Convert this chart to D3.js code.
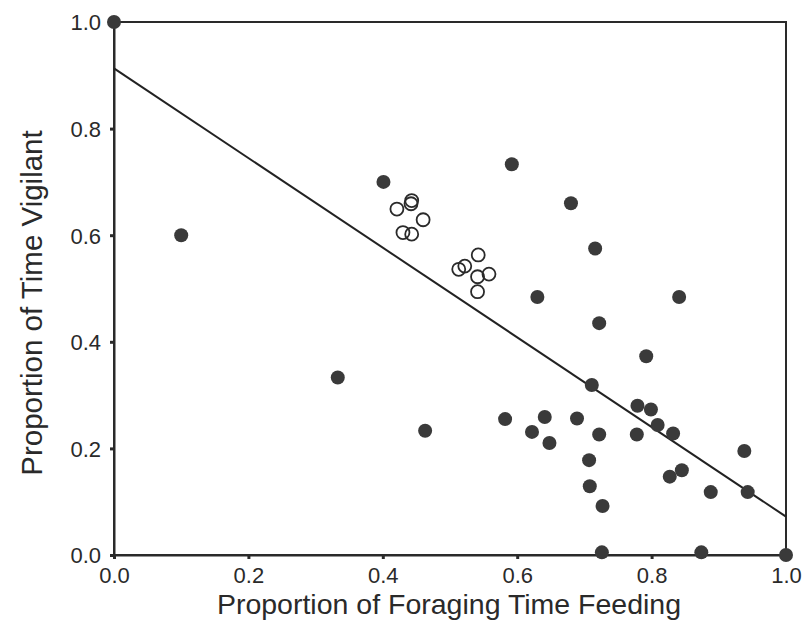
<!DOCTYPE html>
<html>
<head>
<meta charset="utf-8">
<script src="https://cdn.jsdelivr.net/npm/d3@7"></script>
<style>
  body { margin: 0; background: #fff; }
  text { font-family: "Liberation Sans", Arial, sans-serif; fill: #2a2a2a; }
</style>
</head>
<body>
<div id="scatter"></div>
<script>
var svgWidth = 803;
var svgHeight = 621;

var margin = { top: 22, right: 17, bottom: 66, left: 114 };
var width = svgWidth - margin.left - margin.right;
var height = svgHeight - margin.top - margin.bottom;

// filled points: feeding (x) vs vigilant (y)
var filledX = [0.0, 0.10, 0.333, 0.401, 0.463, 0.592, 0.680, 0.716, 0.630, 0.841,
  0.722, 0.792, 0.711, 0.582, 0.622, 0.641, 0.648, 0.689, 0.722, 0.707,
  0.708, 0.727, 0.726, 0.874, 1.0, 0.779, 0.799, 0.809, 0.832, 0.778,
  0.845, 0.827, 0.888, 0.938, 0.943];
var filledY = [1.0, 0.60, 0.333, 0.700, 0.233, 0.733, 0.660, 0.575, 0.484, 0.484,
  0.435, 0.373, 0.319, 0.255, 0.231, 0.259, 0.210, 0.256, 0.226, 0.178,
  0.129, 0.092, 0.005, 0.005, 0.0, 0.280, 0.273, 0.244, 0.228, 0.226,
  0.159, 0.147, 0.118, 0.195, 0.118];

// open points
var openX = [0.421, 0.443, 0.442, 0.460, 0.430, 0.443, 0.513, 0.522, 0.542, 0.541, 0.558, 0.541];
var openY = [0.649, 0.665, 0.659, 0.629, 0.605, 0.602, 0.536, 0.542, 0.563, 0.522, 0.527, 0.494];

// regression line end points
var fitX = [0, 1];
var fitY = [0.913, 0.072];

var tickValues = [0, 0.2, 0.4, 0.6, 0.8, 1.0];

var svg = d3.select("#scatter")
  .append("svg")
  .attr("width", svgWidth)
  .attr("height", svgHeight);

var chart = svg.append("g")
  .attr("transform", `translate(${margin.left}, ${margin.top})`);

var xScale = d3.scaleLinear().domain([0, 1]).range([0, width]);
var yScale = d3.scaleLinear().domain([0, 1]).range([height, 0]);

// frame
chart.append("rect")
  .attr("x", 0).attr("y", 0)
  .attr("width", width).attr("height", height)
  .attr("fill", "none")
  .attr("stroke", "#2a2a2a")
  .attr("stroke-width", 2);

var bottomAxis = d3.axisBottom(xScale).tickValues(tickValues)
  .tickFormat(d3.format(".1f")).tickSizeInner(4).tickSizeOuter(0).tickPadding(8);
var leftAxis = d3.axisLeft(yScale).tickValues(tickValues)
  .tickFormat(d3.format(".1f")).tickSizeInner(4).tickSizeOuter(0).tickPadding(9);

var xAxisG = chart.append("g")
  .attr("transform", `translate(0, ${height})`)
  .call(bottomAxis);
var yAxisG = chart.append("g").call(leftAxis);

[xAxisG, yAxisG].forEach(function(g) {
  g.select(".domain").attr("stroke", "#2a2a2a").attr("stroke-width", 2);
  g.selectAll(".tick line").attr("stroke", "#2a2a2a").attr("stroke-width", 3);
  g.selectAll(".tick text")
    .attr("font-size", 22)
    .attr("font-family", "Liberation Sans, Arial, sans-serif")
    .attr("fill", "#2a2a2a");
});
yAxisG.selectAll(".tick text").attr("dy", "0.36em");

// fit line
chart.append("line")
  .attr("x1", xScale(fitX[0])).attr("y1", yScale(fitY[0]))
  .attr("x2", xScale(fitX[1])).attr("y2", yScale(fitY[1]))
  .attr("stroke", "#222")
  .attr("stroke-width", 2);

var filled = filledX.map(function(x, i) { return { x: x, y: filledY[i] }; });
var open = openX.map(function(x, i) { return { x: x, y: openY[i] }; });

chart.selectAll(".filled")
  .data(filled).enter()
  .append("circle")
  .attr("class", "filled")
  .attr("cx", function(d) { return xScale(d.x); })
  .attr("cy", function(d) { return yScale(d.y); })
  .attr("r", 7)
  .attr("fill", "#3a3a3a");

chart.selectAll(".open")
  .data(open).enter()
  .append("circle")
  .attr("class", "open")
  .attr("cx", function(d) { return xScale(d.x); })
  .attr("cy", function(d) { return yScale(d.y); })
  .attr("r", 6.5)
  .attr("fill", "none")
  .attr("stroke", "#2a2a2a")
  .attr("stroke-width", 1.8);

// axis titles
svg.append("text")
  .attr("transform", "rotate(-90)")
  .attr("x", -303)
  .attr("y", 42)
  .attr("text-anchor", "middle")
  .attr("font-size", 29.5)
  .text("Proportion of Time Vigilant");

svg.append("text")
  .attr("x", 449)
  .attr("y", 614)
  .attr("text-anchor", "middle")
  .attr("font-size", 28.5)
  .text("Proportion of Foraging Time Feeding");
</script>
</body>
</html>
